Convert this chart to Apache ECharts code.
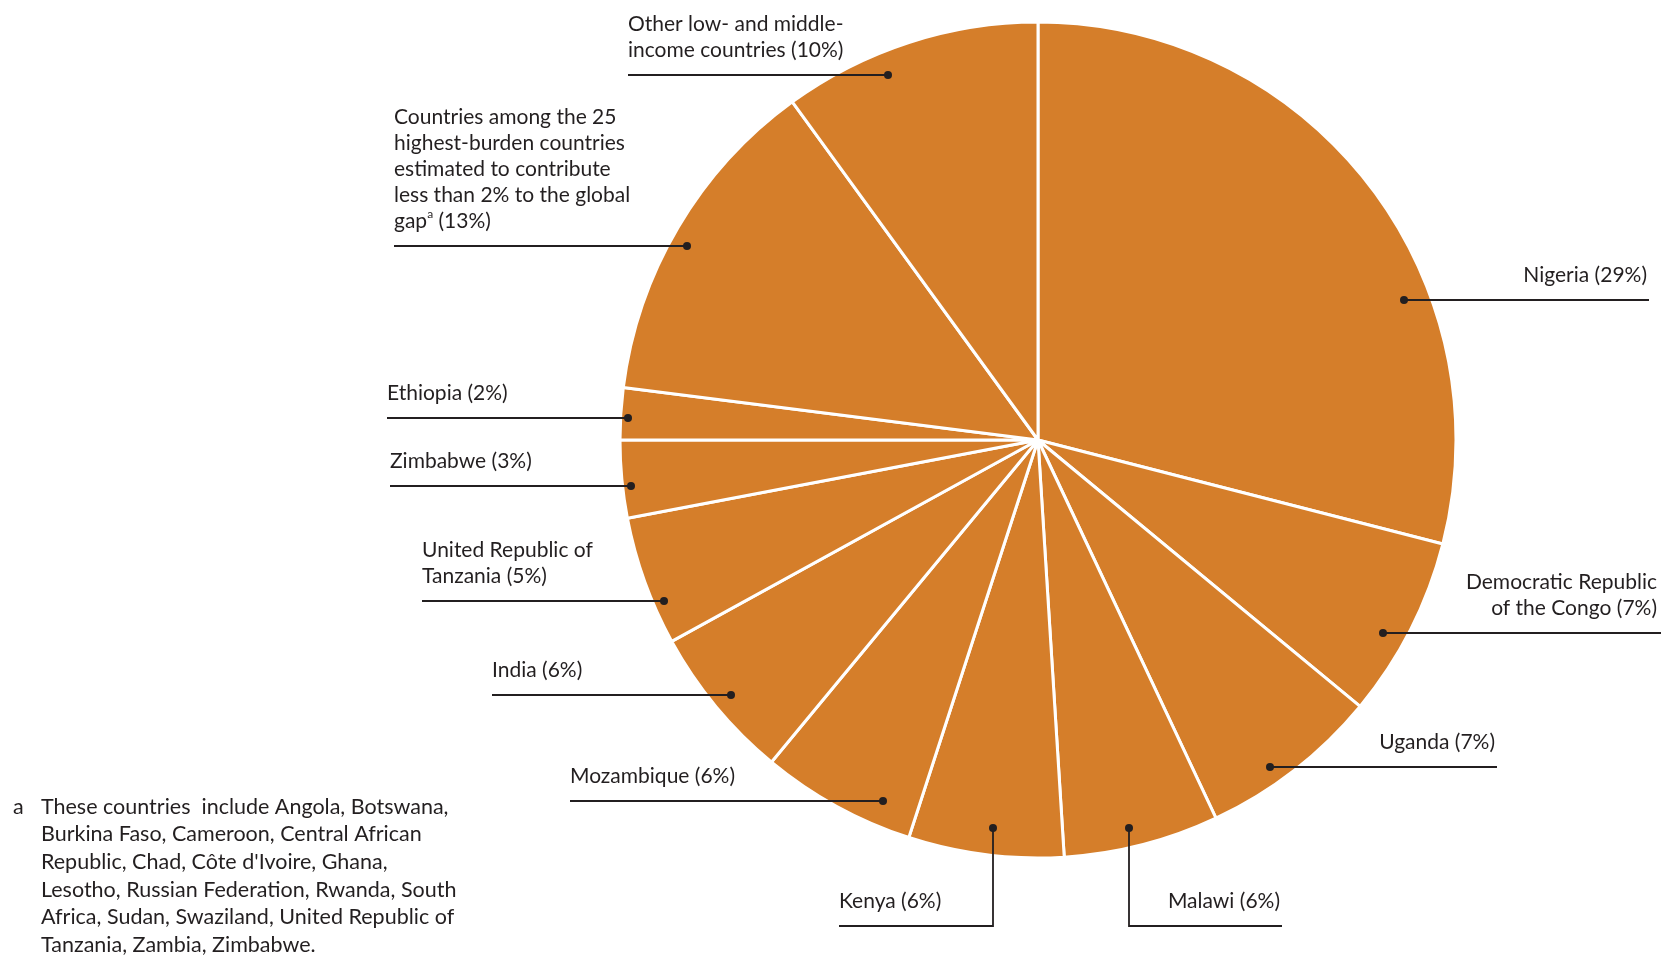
<!DOCTYPE html>
<html lang="en">

<head>
    <meta charset="UTF-8">
    <title>Global gap by country</title>
    <script src="https://cdn.jsdelivr.net/npm/echarts@6/dist/echarts.min.js"></script>
    <style>
        html, body {
            margin: 0;
            padding: 0;
            background: #ffffff;
        }

        #chart {
            width: 1661px;
            height: 957px;
        }
    </style>
</head>

<body>
    <div id="chart"></div>

    <script>
        // slices, clockwise from 12 o'clock
        var categories = [
            'Nigeria',
            'Democratic Republic\nof the Congo',
            'Uganda',
            'Malawi',
            'Kenya',
            'Mozambique',
            'India',
            'United Republic of\nTanzania',
            'Zimbabwe',
            'Ethiopia',
            'Countries among the 25\nhighest-burden countries\nestimated to contribute\nless than 2% to the global\ngap{sup|a}',
            'Other low- and middle-\nincome countries'
        ];
        var shares = [29, 7, 7, 6, 6, 6, 6, 5, 3, 2, 13, 10];

        var footnoteMark = 'a';
        var footnoteLines = [
            'These countries  include Angola, Botswana,',
            'Burkina Faso, Cameroon, Central African',
            'Republic, Chad, Côte d\'Ivoire, Ghana,',
            'Lesotho, Russian Federation, Rwanda, South',
            'Africa, Sudan, Swaziland, United Republic of',
            'Tanzania, Zambia, Zimbabwe.'
        ];

        // label leader layout (pixels): dot inside slice, optional bend, far end of the rule
        var leaders = [
            { dot: [1404, 300], end: 1649, align: 'right' },
            { dot: [1383, 633], end: 1661, textX: 1657, align: 'right' },
            { dot: [1270, 767], end: 1497, align: 'right' },
            { dot: [1129, 828], bend: 926, end: 1282, align: 'right' },
            { dot: [993, 828], bend: 926, end: 839, align: 'left' },
            { dot: [883, 801], end: 570, align: 'left' },
            { dot: [731, 695], end: 492, align: 'left' },
            { dot: [664, 601], end: 422, align: 'left' },
            { dot: [631, 486], end: 390, align: 'left' },
            { dot: [628, 418], end: 387, align: 'left' },
            { dot: [687, 246], end: 394, align: 'left' },
            { dot: [888, 75], end: 628, align: 'left' }
        ];

        var FONT = "Lato, 'DejaVu Sans Condensed', sans-serif";
        var INK = '#231f20';

        var chart = echarts.init(document.getElementById('chart'));

        var pieData = categories.map(function (name, i) {
            return { name: name, value: shares[i] };
        });

        function leaderPoints(l) {
            var y = l.bend != null ? l.bend : l.dot[1];
            return [
                [l.dot[0], l.dot[1]],
                [l.dot[0], y],
                [l.end, y]
            ];
        }

        var option = {
            animation: false,
            backgroundColor: '#ffffff',
            // invisible pixel grid for the leader rules and dots
            grid: { left: 0, right: 0, top: 0, bottom: 0 },
            xAxis: { type: 'value', min: 0, max: 1661, show: false },
            yAxis: { type: 'value', min: 0, max: 957, inverse: true, show: false },
            graphic: [
                {
                    type: 'text',
                    left: 13,
                    top: 793,
                    style: {
                        text: footnoteMark,
                        font: '21.5px ' + FONT,
                        fill: INK,
                        lineHeight: 27.6
                    }
                },
                {
                    type: 'text',
                    left: 41,
                    top: 793,
                    style: {
                        text: footnoteLines.join('\n'),
                        font: '21.5px ' + FONT,
                        fill: INK,
                        lineHeight: 27.6
                    }
                }
            ],
            series: [
                {
                    type: 'pie',
                    center: [1038, 440],
                    radius: 418,
                    startAngle: 90,
                    clockwise: true,
                    avoidLabelOverlap: false,
                    itemStyle: {
                        color: '#d57e2a',
                        borderColor: '#ffffff',
                        borderWidth: 3
                    },
                    label: {
                        show: true,
                        position: 'outside',
                        formatter: function (p) {
                            return p.name + ' (' + p.value + '%)';
                        },
                        fontFamily: FONT,
                        fontSize: 21,
                        lineHeight: 26,
                        color: INK,
                        rich: {
                            sup: {
                                fontFamily: FONT,
                                fontSize: 12,
                                lineHeight: 26,
                                verticalAlign: 'top',
                                color: INK,
                                padding: [0, 0, 8, 0]
                            }
                        }
                    },
                    labelLine: { show: false },
                    labelLayout: function (params) {
                        var l = leaders[params.dataIndex];
                        var y = l.bend != null ? l.bend : l.dot[1];
                        var x = l.textX != null ? l.textX : (l.align === 'right' ? l.end - 2 : l.end);
                        return {
                            x: x,
                            y: y - 12,
                            align: l.align,
                            verticalAlign: 'bottom'
                        };
                    },
                    emphasis: { disabled: true },
                    data: pieData
                },
                {
                    type: 'lines',
                    coordinateSystem: 'cartesian2d',
                    polyline: true,
                    silent: true,
                    z: 4,
                    lineStyle: { color: INK, width: 1.8, opacity: 1 },
                    data: leaders.map(function (l) {
                        return { coords: leaderPoints(l) };
                    })
                },
                {
                    type: 'scatter',
                    symbol: 'circle',
                    symbolSize: 8,
                    z: 5,
                    silent: true,
                    itemStyle: { color: INK, opacity: 1 },
                    data: leaders.map(function (l) { return l.dot; })
                }
            ]
        };

        chart.setOption(option);
    </script>

</body>

</html>
